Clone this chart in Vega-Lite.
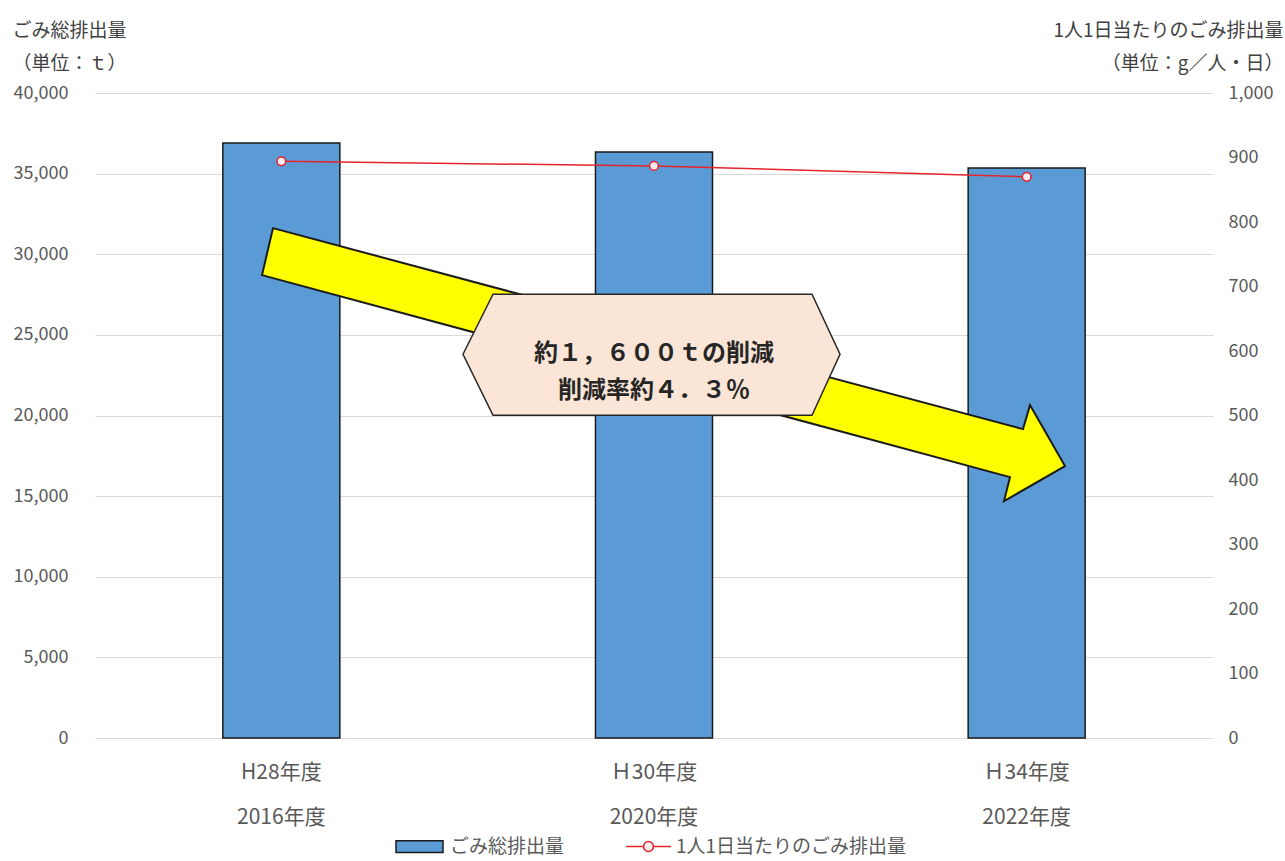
{
  "$schema": "https://vega.github.io/schema/vega-lite/v6.json",
  "width": 1118,
  "height": 645,
  "autosize": {"type": "none"},
  "padding": {"left": 95, "top": 93, "right": 72, "bottom": 123},
  "config": {
    "view": {"stroke": null},
    "font": "Noto Sans CJK JP",
    "axis": {"labelFont": "Noto Sans CJK JP", "titleFont": "Noto Sans CJK JP"},
    "legend": {"labelFont": "Noto Sans CJK JP"}
  },
  "data": {
    "values": [
      {"year": "H28年度|2016年度", "total": 36900, "perCapita": 894},
      {"year": "Ｈ30年度|2020年度", "total": 36340, "perCapita": 887},
      {"year": "Ｈ34年度|2022年度", "total": 35350, "perCapita": 870}
    ]
  },
  "encoding": {
    "x": {
      "field": "year",
      "type": "nominal",
      "sort": null,
      "scale": {"paddingInner": 0.686, "paddingOuter": 0.343},
      "axis": {
        "title": null,
        "labelAngle": 0,
        "labelExpr": "split(datum.label, '|')",
        "labelFontSize": 21,
        "labelLineHeight": 45,
        "labelColor": "#595959",
        "labelPadding": 23,
        "labelBaseline": "top",
        "ticks": false,
        "domainColor": "#D9D9D9",
        "domainWidth": 1
      }
    }
  },
  "layer": [
    {
      "layer": [
        {
          "mark": {"type": "bar", "stroke": "#1a1a1a", "strokeWidth": 1.5},
          "encoding": {
            "y": {
              "field": "total",
              "type": "quantitative",
              "scale": {"domain": [0, 40000], "nice": false},
              "axis": {
                "values": [0, 5000, 10000, 15000, 20000, 25000, 30000, 35000, 40000],
                "format": ",d",
                "domain": false,
                "ticks": false,
                "grid": true,
                "gridColor": "#D9D9D9",
                "labelFontSize": 18,
                "labelColor": "#595959",
                "labelPadding": 27,
                "title": ["ごみ総排出量", "（単位：ｔ）"],
                "titleAngle": 0,
                "titleAlign": "left",
                "titleBaseline": "top",
                "titleX": -83,
                "titleY": -72,
                "titleFontSize": 19,
                "titleFontWeight": "normal",
                "titleColor": "#404040",
                "titleLineHeight": 33
              }
            },
            "fill": {
              "datum": "ごみ総排出量",
              "type": "nominal",
              "scale": {"range": ["#5B9BD5"]},
              "legend": {
                "orient": "none",
                "legendX": 300,
                "legendY": 729,
                "title": null,
                "padding": 0,
                "symbolType": "M-1,-0.25H1V0.25H-1Z",
                "symbolSize": 2209,
                "symbolStrokeColor": "#1a1a1a",
                "symbolStrokeWidth": 1.5,
                "labelFontSize": 19,
                "labelColor": "#595959",
                "labelOffset": 6,
                "labelLimit": 400
              }
            }
          }
        },
        {
          "data": {"values": [{"name": "arrow"}]},
          "mark": {
            "type": "point",
            "shape": "M-0.9525,-0.3475L0.9225,0.155L0.94,0.095L1.0275,0.2475L0.875,0.335L0.89,0.275L-0.98,-0.23Z",
            "size": 640000,
            "filled": true,
            "fill": "#FFFF00",
            "stroke": "#1a1a1a",
            "strokeWidth": 2,
            "opacity": 1
          },
          "encoding": {
            "x": {"datum": "Ｈ30年度|2020年度", "type": "nominal"},
            "y": {"datum": 23000, "type": "quantitative"}
          }
        },
        {
          "data": {"values": [{"name": "box"}]},
          "mark": {
            "type": "point",
            "shape": "M-0.955,0L-0.805,-0.3L0.79,-0.3L0.93,0L0.79,0.305L-0.805,0.305Z",
            "size": 160000,
            "filled": true,
            "fill": "#FBE5D6",
            "stroke": "#262626",
            "strokeWidth": 1.5,
            "opacity": 1
          },
          "encoding": {
            "x": {"datum": "Ｈ30年度|2020年度", "type": "nominal"},
            "y": {"datum": 23800, "type": "quantitative"}
          }
        },
        {
          "data": {"values": [{"label": "約１，６００ｔの削減\n削減率約４．３％"}]},
          "mark": {
            "type": "text",
            "lineBreak": "\n",
            "fontSize": 24,
            "fontWeight": "bold",
            "lineHeight": 37,
            "baseline": "middle",
            "align": "center",
            "color": "#262626",
            "font": "Noto Sans CJK JP"
          },
          "encoding": {
            "x": {"datum": "Ｈ30年度|2020年度", "type": "nominal"},
            "y": {"datum": 23800, "type": "quantitative"},
            "text": {"field": "label"}
          }
        }
      ]
    },
    {
      "encoding": {
        "y": {
          "field": "perCapita",
          "type": "quantitative",
          "scale": {"domain": [0, 1000], "nice": false},
          "axis": {
            "orient": "right",
            "values": [0, 100, 200, 300, 400, 500, 600, 700, 800, 900, 1000],
            "format": ",d",
            "domain": false,
            "ticks": false,
            "grid": false,
            "labelFontSize": 18,
            "labelColor": "#595959",
            "labelPadding": 15,
            "title": ["1人1日当たりのごみ排出量", "（単位：g／人・日）"],
            "titleAngle": 0,
            "titleAlign": "right",
            "titleBaseline": "top",
            "titleX": 70,
            "titleY": -72,
            "titleFontSize": 19,
            "titleFontWeight": "normal",
            "titleColor": "#404040",
            "titleLineHeight": 33
          }
        }
      },
      "layer": [
        {
          "mark": {"type": "line", "strokeWidth": 1.5},
          "encoding": {
            "stroke": {
              "datum": "1人1日当たりのごみ排出量",
              "type": "nominal",
              "scale": {"range": ["#E3242B"]},
              "legend": {
                "orient": "none",
                "legendX": 530,
                "legendY": 730,
                "title": null,
                "padding": 0,
                "symbolType": "M-1,0H-0.22M0.22,0H1M0.22,0A0.22,0.22 0 1,1 -0.22,0A0.22,0.22 0 1,1 0.22,0Z",
                "symbolSize": 2025,
                "symbolFillColor": "#FFF0F0",
                "symbolStrokeWidth": 1.5,
                "labelFontSize": 19,
                "labelColor": "#595959",
                "labelOffset": 4,
                "labelLimit": 400
              }
            }
          }
        },
        {
          "mark": {
            "type": "point",
            "filled": true,
            "fill": "#FDECEF",
            "stroke": "#E3242B",
            "strokeWidth": 1.5,
            "size": 75,
            "opacity": 1
          },
          "encoding": {}
        }
      ]
    }
  ],
  "resolve": {"scale": {"y": "independent"}}
}
